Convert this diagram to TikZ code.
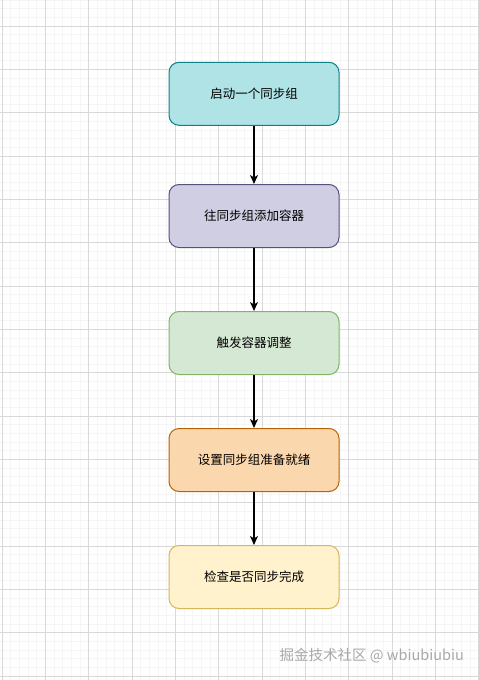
\documentclass[tikz,border=0pt]{standalone}
\usepackage{fontspec}
\newfontfamily\cjkfont{Noto Sans CJK SC}
\usetikzlibrary{arrows.meta}
\definecolor{gmaj}{HTML}{D9D9D9}
\definecolor{gmin}{HTML}{F5F5F5}
\definecolor{f1}{HTML}{B0E3E6}\definecolor{s1}{HTML}{0E8088}
\definecolor{f2}{HTML}{D0CEE2}\definecolor{s2}{HTML}{56517E}
\definecolor{f3}{HTML}{D5E8D4}\definecolor{s3}{HTML}{82B366}
\definecolor{f4}{HTML}{FAD7AC}\definecolor{s4}{HTML}{B46504}
\definecolor{f5}{HTML}{FFF2CC}\definecolor{s5}{HTML}{D6B656}
\definecolor{wm}{HTML}{A8A8A8}
\tikzset{
  flowbox/.style={draw, line width=1pt, rounded corners=10pt, minimum width=170pt, minimum height=63pt, inner sep=0pt,
    font=\cjkfont\fontsize{12.5}{15}\selectfont, text=black},
  flowarrow/.style={draw=black, line width=1.3pt, -{Stealth[length=9pt,width=8pt,inset=2.5pt]}}
}
\begin{document}
\begin{tikzpicture}[x=1pt,y=-1pt]
\useasboundingbox (0,0) rectangle (479,680);
\fill[white] (0,0) rectangle (479,680);
% minor grid
\foreach \i in {0,...,56} {
  \pgfmathsetmacro\xx{2+8.6667*\i}
  \draw[gmin, line width=0.6pt] (\xx,0) -- (\xx,680);
}
\foreach \i in {0,...,80} {
  \pgfmathsetmacro\yy{-17.33+8.6667*\i}
  \draw[gmin, line width=0.6pt] (0,\yy) -- (479,\yy);
}
% major grid
\foreach \i in {0,...,11} {
  \pgfmathsetmacro\xx{2+43.333*\i}
  \draw[gmaj, line width=0.8pt] (\xx,0) -- (\xx,680);
}
\foreach \i in {0,...,15} {
  \pgfmathsetmacro\yy{26+43.333*\i}
  \draw[gmaj, line width=0.8pt] (0,\yy) -- (479,\yy);
}
% boxes
\node[flowbox, fill=f1, draw=s1] (b1) at (254,93.8) {启动一个同步组};
\node[flowbox, fill=f2, draw=s2] (b2) at (254,216) {往同步组添加容器};
\node[flowbox, fill=f3, draw=s3] (b3) at (254,343) {触发容器调整};
\node[flowbox, fill=f4, draw=s4] (b4) at (254,460) {设置同步组准备就绪};
\node[flowbox, fill=f5, draw=s5] (b5) at (254,577) {检查是否同步完成};
% arrows
\draw[flowarrow] (b1) -- (b2);
\draw[flowarrow] (b2) -- (b3);
\draw[flowarrow] (b3) -- (b4);
\draw[flowarrow] (b4) -- (b5);
% watermark
\node[anchor=east, inner sep=0pt, text=wm, font=\cjkfont\fontsize{14.5}{16}\selectfont] (wmk) at (464,656) {掘金技术社区 @ wbiubiubiu};
\end{tikzpicture}
\end{document}
